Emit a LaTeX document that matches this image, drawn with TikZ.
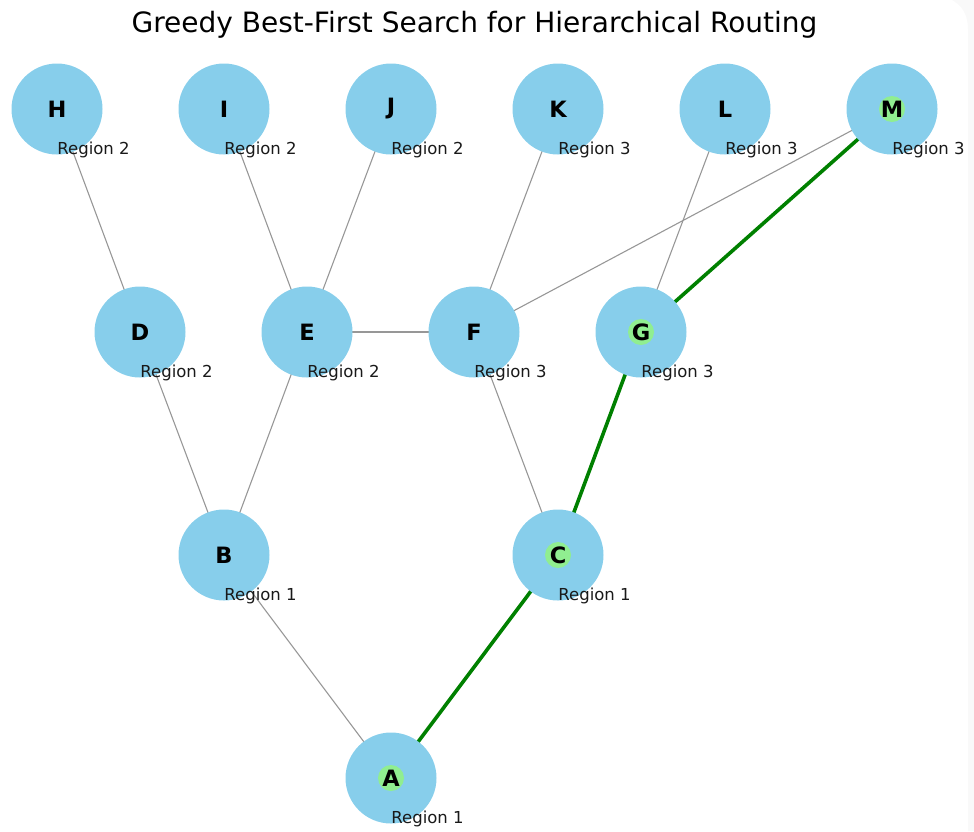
\documentclass[tikz,border=0pt]{standalone}
\usepackage{fontspec}
\setmainfont{DejaVu Sans}
\usetikzlibrary{calc}
\definecolor{skyblue}{HTML}{87CEEB}
\definecolor{lightgreen}{HTML}{90EE90}
\definecolor{pathgreen}{HTML}{008000}
\definecolor{edgegray}{HTML}{979797}
\begin{document}
\begin{tikzpicture}[x=1pt,y=-1pt,
  vert/.style={circle,fill=skyblue,minimum size=91pt,inner sep=0pt},
  hl/.style={circle,fill=lightgreen,minimum size=26pt,inner sep=0pt},
  plainedge/.style={draw=edgegray,line width=1.1pt},
  greenedge/.style={draw=pathgreen,line width=3.6pt},
  reg/.style={font=\fontsize{16.5}{16.5}\selectfont,text=black!90,anchor=center},
  lbl/.style={font=\fontsize{22.5}{22.5}\selectfont\bfseries,anchor=center}
]
\useasboundingbox (0,0) rectangle (974,831);
\fill[black!2.5] (952,0) .. controls (962,6) and (968,14) .. (968,30) -- (968,831) -- (974,831) -- (974,0) -- cycle;
\node[font=\fontsize{28}{28}\selectfont,anchor=base] (title) at (474.5,32.5) {Greedy Best-First Search for Hierarchical Routing};
% positions
\coordinate (H) at (57,109);
\coordinate (I) at (224,109);
\coordinate (J) at (391,109);
\coordinate (K) at (558,109);
\coordinate (L) at (725,109);
\coordinate (M) at (892,109);
\coordinate (D) at (140,332);
\coordinate (E) at (307,332);
\coordinate (F) at (474,332);
\coordinate (G) at (641,332);
\coordinate (B) at (224,555);
\coordinate (C) at (558,555);
\coordinate (A) at (391,778);
% edges
\draw[plainedge] (H) -- (D);
\draw[plainedge] (I) -- (E);
\draw[plainedge] (J) -- (E);
\draw[plainedge] (K) -- (F);
\draw[plainedge] (M) -- (F);
\draw[plainedge] (L) -- (G);
\draw[plainedge] (E) -- (F);
\draw[plainedge] (D) -- (B);
\draw[plainedge] (E) -- (B);
\draw[plainedge] (F) -- (C);
\draw[plainedge] (B) -- (A);
\draw[greenedge] (A) -- (C);
\draw[greenedge] (C) -- (G);
\draw[greenedge] (G) -- (M);
% nodes
\foreach \n in {A,B,C,D,E,F,G,H,I,J,K,L,M}{
  \node[vert] (n\n) at (\n) {};
}
\foreach \n in {A,C,G,M}{
  \node[hl] (h\n) at (\n) {};
}
\foreach \n in {A,B,C,D,E,F,G,H,I,J,K,L,M}{
  \node[lbl] (t\n) at (\n) {\n};
}
% region labels
\node[reg] (rH) at ($(H)+(36.5,41)$) {Region 2};
\node[reg] (rI) at ($(I)+(36.5,41)$) {Region 2};
\node[reg] (rJ) at ($(J)+(36.5,41)$) {Region 2};
\node[reg] (rK) at ($(K)+(36.5,41)$) {Region 3};
\node[reg] (rL) at ($(L)+(36.5,41)$) {Region 3};
\node[reg] (rM) at ($(M)+(36.5,41)$) {Region 3};
\node[reg] (rD) at ($(D)+(36.5,41)$) {Region 2};
\node[reg] (rE) at ($(E)+(36.5,41)$) {Region 2};
\node[reg] (rF) at ($(F)+(36.5,41)$) {Region 3};
\node[reg] (rG) at ($(G)+(36.5,41)$) {Region 3};
\node[reg] (rB) at ($(B)+(36.5,41)$) {Region 1};
\node[reg] (rC) at ($(C)+(36.5,41)$) {Region 1};
\node[reg] (rA) at ($(A)+(36.5,41)$) {Region 1};
\end{tikzpicture}
\end{document}
